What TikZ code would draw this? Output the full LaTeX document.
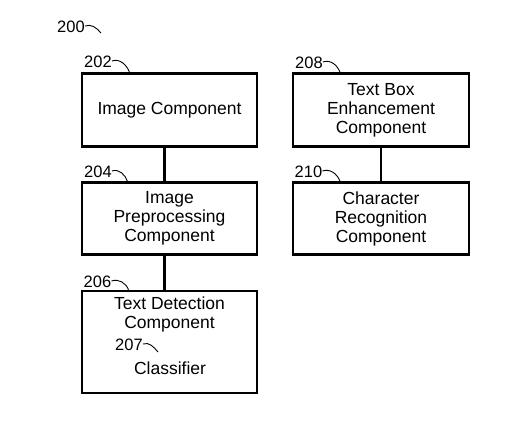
\documentclass[tikz,border=0pt]{standalone}
\usepackage{fontspec}
\setmainfont{Liberation Sans}
\usetikzlibrary{positioning}
\tikzset{
  % 方框
  box/.style={
    draw=black,
    line width=2.4pt,
    minimum width=175pt,
    minimum height=73pt,
    align=center,
    inner sep=0pt,
    font=\fontsize{17.5}{19}\selectfont
  },
  % 方框内文字
  txt/.style={align=center, inner sep=0pt, font=\fontsize{17.5}{19}\selectfont},
  % 编号
  num/.style={inner sep=0pt, font=\fontsize{16.5}{18}\selectfont},
  % 连线
  link/.style={line width=2.4pt},
  % 引线
  hook/.style={line width=0.9pt},
}
\begin{document}
\begin{tikzpicture}[x=1pt, y=-1pt]
        \useasboundingbox (0,0) rectangle (527,447);

        % Figure number
        \node[num] (l200) at (71,27) {200};
        \coordinate (h200) at (101,33);
        \draw[hook] ([yshift=1pt]l200.east) to[out=20,in=130] (h200);

        % Left column
        \node[box] (b202) at (169.5,110) {Image Component};
        \node[box, minimum height=72pt] (b204) at (169.5,218.5) {Image\\Preprocessing\\Component};
        \node[box, minimum height=102pt] (b206) at (169.5,342) {};
        \node[txt] (t206) at (169.5,314) {Text Detection\\Component};
        \node[txt] (cls) at (170,368) {Classifier};

        % Right column
        \node[box, minimum width=176pt] (b208) at (381,110) {Text Box\\Enhancement\\Component};
        \node[box, minimum width=176pt, minimum height=72pt] (b210) at (381,218.5) {Character\\Recognition\\Component};

        % Links
        \draw[link] ([xshift=-5pt]b202.south) -- ([xshift=-5pt]b204.north);
        \draw[link] ([xshift=-5pt]b204.south) -- ([xshift=-5pt]b206.north);
        \draw[link] (b208.south) -- (b210.north);

        % Reference numbers
        \node[num] (l202) at (98,62) {202};
        \node[num] (l204) at (98,172) {204};
        \node[num] (l206) at (97.5,282) {206};
        \node[num] (l207) at (129,345) {207};
        \node[num] (l208) at (309,63) {208};
        \node[num] (l210) at (308.5,172) {210};
        \coordinate (h207) at (158,352);
        \draw[hook] ([yshift=1pt]l202.east) to[out=20,in=110] ([xshift=-40pt]b202.north);
        \draw[hook] ([yshift=1pt]l204.east) to[out=20,in=110] ([xshift=-42pt]b204.north);
        \draw[hook] ([yshift=1pt]l206.east) to[out=20,in=110] ([xshift=-41pt]b206.north);
        \draw[hook] ([yshift=1pt]l207.east) to[out=20,in=130] (h207);
        \draw[hook] ([yshift=1pt]l208.east) to[out=20,in=110] ([xshift=-41pt]b208.north);
        \draw[hook] ([yshift=1pt]l210.east) to[out=20,in=110] ([xshift=-41pt]b210.north);
    \end{tikzpicture}
\end{document}
